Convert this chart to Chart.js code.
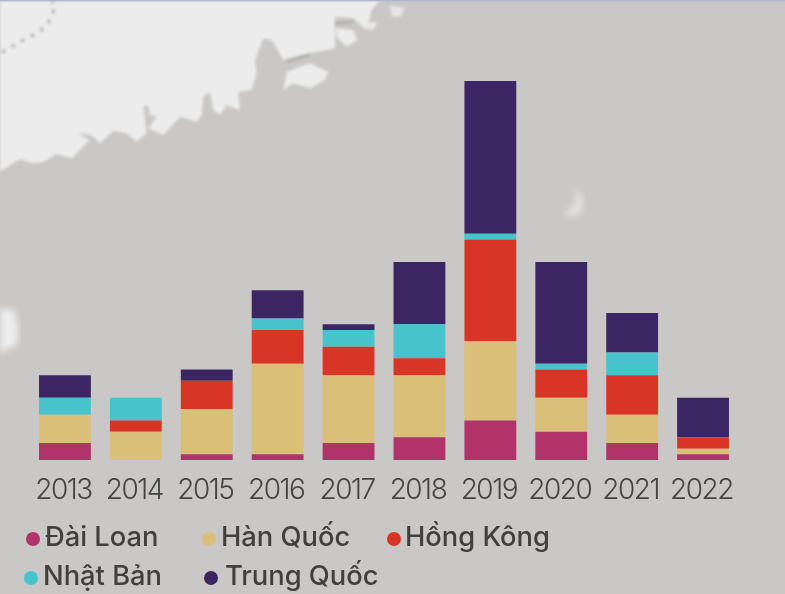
<!DOCTYPE html>
<html><head><meta charset="utf-8">
<style>
html,body{margin:0;padding:0;background:#cac8c6;}
#wrap{position:relative;width:785px;height:594px;overflow:hidden;background:#cac8c6;}
#map{position:absolute;left:0;top:0;}
canvas{position:absolute;left:0;top:0;}
.lg{position:absolute;font:500 27.3px Inter,sans-serif;color:#404040;white-space:nowrap;line-height:32px;}
.dot{position:absolute;width:14px;height:14px;border-radius:50%;}
</style>
<script src="https://cdn.jsdelivr.net/npm/chart.js@4"></script>
</head><body>
<div id="wrap">
<svg id="map" width="785" height="594" viewBox="0 0 2355 1782">
<defs><filter id="b"><feGaussianBlur stdDeviation="5"/></filter><filter id="b2"><feGaussianBlur stdDeviation="9"/></filter></defs>
<g filter="url(#b)" fill="#ececec">
<path d="M0,515 L30,495 60,478 100,490 130,485 170,462 215,475 245,445 270,420 230,400 275,405 300,430 340,392 380,400 410,425 440,400 430,320 445,315 450,345 470,350 445,385 490,405 540,350 590,365 605,345 610,290 630,275 640,330 660,345 680,315 720,330 715,275 755,270 770,220 765,180 790,115 815,120 850,180 930,160 1005,145 1005,50 1060,55 1100,90 1115,30 1140,0 0,0 Z"/>
<path d="M850,270 L860,215 930,190 985,215 975,240 930,265 880,250 Z"/>
<path d="M1008,85 L1060,90 1072,120 1040,140 1010,110 Z"/>
<path d="M1105,70 L1130,65 1125,85 1105,90 Z"/>
<path d="M1170,15 L1215,25 1200,50 1175,50 Z" opacity=".8"/>
</g>
<path d="M155,0 L165,20 150,60 120,95 70,120 0,160" fill="none" stroke="#a0a0a0" stroke-width="9" stroke-dasharray="9 24" filter="url(#b)"/>
<path d="M860,185 L930,165 M1005,70 L1060,65" fill="none" stroke="#a5a5a5" stroke-width="6" filter="url(#b)"/>
<path d="M0,926 L45,930 55,1000 50,1036 25,1045 0,1060 Z" fill="#ededed" filter="url(#b2)"/>
<path d="M1725,560 Q1765,600 1740,640 Q1720,660 1690,640 Q1740,620 1725,560 Z" fill="#ededed" opacity=".7" filter="url(#b2)"/>
<rect x="0" y="0" width="2355" height="4" fill="#a9b9cf"/>
</svg>
<canvas id="c" width="785" height="594"></canvas>
</div>
<script>
const years = ['2013','2014','2015','2016','2017','2018','2019','2020','2021','2022'];
const daiLoan   = [3,0,1,1,3,4,7,5,3,1];
const hanQuoc   = [5,5,8,16,12,11,14,6,5,1];
const hongKong  = [0,2,5,6,5,3,18,5,7,2];
const nhatBan   = [3,4,0,2,3,6,1,1,4,0];
const trungQuoc = [4,0,2,5,1,11,27,18,7,7];
const seriesNames = ['Đài Loan','Hàn Quốc','Hồng Kông','Nhật Bản','Trung Quốc'];
const seriesColors = ['#b0336a','#d9bf78','#d93526','#47c4cb','#3b2663'];
const seriesValues = [daiLoan,hanQuoc,hongKong,nhatBan,trungQuoc];
const legendPos = [[45,521,26,532],[221,521,202,532],[405,521,387,532],[43,560,24,571],[225,560,204,571]];

const tightTicks={id:'tightTicks',beforeDraw(chart){chart.ctx.letterSpacing='-1.5px';}};
new Chart(document.getElementById('c'),{
  type:'bar',
  data:{labels:years,datasets:seriesNames.map((n,i)=>({label:n,data:seriesValues[i],backgroundColor:seriesColors[i],borderWidth:0,barPercentage:1,categoryPercentage:.731}))},
  plugins:[tightTicks],
  options:{
    responsive:false,animation:false,
    layout:{padding:{left:29.5,right:46.5,top:81,bottom:0}},
    plugins:{legend:{display:false},tooltip:{enabled:false},title:{display:false}},
    scales:{
      x:{stacked:true,grid:{display:false},border:{display:false},
         afterFit:s=>{s.height=134;},
         ticks:{color:'#454545',font:{family:'Inter',size:28,weight:'300'},padding:6,labelOffset:-1.5,maxRotation:0,autoSkip:false}},
      y:{stacked:true,display:false,min:0,max:67}
    }
  }
});
const wrap=document.getElementById('wrap');
seriesNames.forEach((n,i)=>{
  const [tx,ty,dx,dy]=legendPos[i];
  const d=document.createElement('div');d.className='dot';d.style.cssText=`left:${dx}px;top:${dy}px;background:${seriesColors[i]}`;wrap.appendChild(d);
  const t=document.createElement('div');t.className='lg';t.textContent=n;t.style.left=tx+'px';t.style.top=ty+'px';wrap.appendChild(t);
});
</script>
</body></html>
